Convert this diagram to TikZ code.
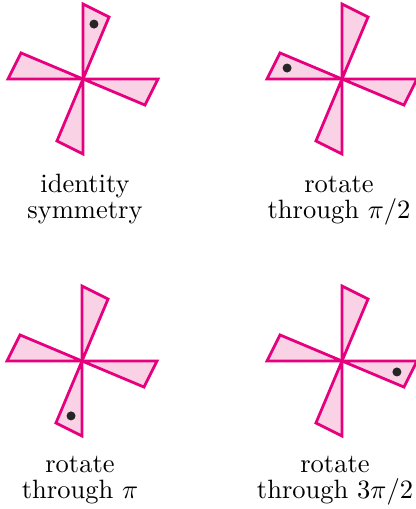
\documentclass[tikz,border=0pt]{standalone}
\usepackage{tikz}
\usetikzlibrary{positioning}
\definecolor{ouMagenta}{RGB}{230,0,126}
\definecolor{ouPink}{RGB}{249,211,229}

\begin{document}
\begin{tikzpicture}[x=0.413pt,y=0.413pt,
   blade/.style={draw=ouMagenta,fill=ouPink,line width=1.15pt,line join=miter},
   marker/.style={fill=black!85},
   caption/.style={align=center,anchor=base,font=\fontsize{10.95}{10.8}\selectfont}]
  \useasboundingbox (0,0) rectangle (416,509);
  % the four pinwheels: centre and angle of the marked blade
  \foreach \cx/\cy/\rot [count=\i] in {83/430/0, 342/430/90, 82/148/180, 342/148/270}{
    \begin{scope}[shift={(\cx,\cy)}]
      \foreach \a in {0,90,180,270}
        \draw[blade] (0,0) -- (\a+90:75) -- (\a+67.2:67.2) -- cycle;
      \fill[marker] (\rot+78.7:56) circle (4.5);
    \end{scope}
  }
  % captions
  \node[caption] (idLabel) at (85,290) {identity\\symmetry};
  \node[caption] (halfLabel) at (339,290) {rotate\\through $\pi/2$};
  \node[caption] (piLabel) at (80,10) {rotate\\through $\pi$};
  \node[caption] (threeLabel) at (335,10) {rotate\\through $3\pi/2$};
\end{tikzpicture}
\end{document}
